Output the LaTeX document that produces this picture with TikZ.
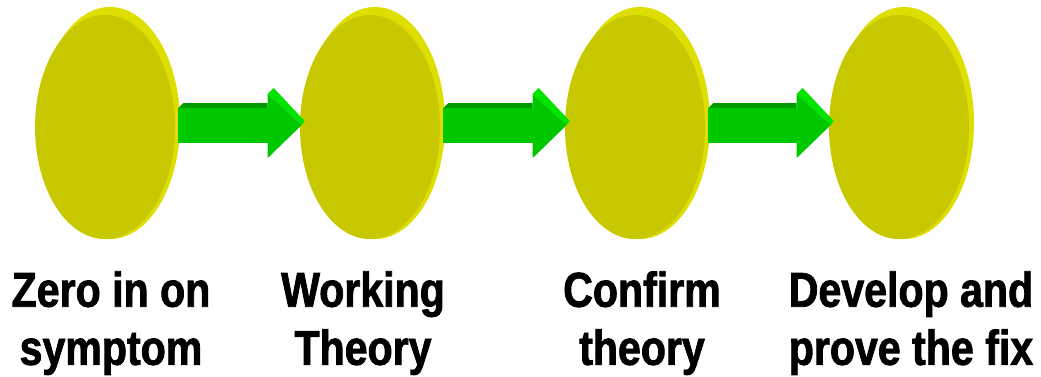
\documentclass[tikz,border=0pt]{standalone}
\usepackage{fontspec}
\usepackage{tikz}
\usetikzlibrary{calc,shapes.geometric}
\newfontfamily\labelfont[FakeStretch=0.84,FakeBold=1.6]{Liberation Sans}
\definecolor{discface}{RGB}{200,200,0}
\definecolor{discrim}{RGB}{222,222,0}
\definecolor{arrowface}{RGB}{0,200,0}
\definecolor{arrowtop}{RGB}{0,155,0}
\definecolor{arrowbevel}{RGB}{0,228,0}
\tikzset{
  disc/.style={ellipse, fill=discface, minimum width=3.5cm,
               minimum height=5.6cm, inner sep=0pt},
  rim/.style={ellipse, fill=discrim, minimum width=3.5cm,
              minimum height=5.8cm, inner sep=0pt},
  steplabel/.style={anchor=north, align=center, inner sep=0pt,
                    font=\labelfont\bfseries\fontsize{34.8}{41.3}\selectfont}
}

\begin{document}
\begin{tikzpicture}[x=0.025cm, y=-0.025cm]
  \useasboundingbox (0,0) rectangle (1041,376);
  % discs: rim behind, face in front
  \node[rim] (zerorim) at (110,123) {};
  \node[rim] (theoryrim) at (375,123) {};
  \node[rim] (confirmrim) at (640,123) {};
  \node[rim] (fixrim) at (904,123) {};
  \node[disc] (zero) at (105,127) {};
  \node[disc] (theory) at (370,127) {};
  \node[disc] (confirm) at (635,127) {};
  \node[disc] (fix) at (899,127) {};
  % block arrows between the discs
  \foreach \a/\b in {zero/theory, theory/confirm, confirm/fix} {
    \coordinate (s) at ($(\a.east)+(3,-2)$);
    \coordinate (t) at ($(\b.west)+(2,-2)$);
    \fill[arrowtop] ($(s)+(0,-17)$) -- ($(s)+(5,-22)$) -- ($(t)+(-34,-22)$) -- ($(t)+(-34,-17)$) -- cycle;
    \fill[arrowface] ($(s)+(0,-17)$) -- ($(t)+(-34,-17)$) -- ($(t)+(-34,18)$) -- ($(s)+(0,18)$) -- cycle;
    \fill[arrowbevel] ($(t)+(-34,-31)$) -- ($(t)+(-28,-37)$) -- ($(t)+(3,-4)$) -- (t) -- cycle;
    \fill[arrowface] ($(t)+(-34,-31)$) -- (t) -- ($(t)+(-34,33)$) -- cycle;
  }
  % labels
  \node[steplabel] (zerolbl) at (111,271) {Zero in on\\symptom};
  \node[steplabel] (theorylbl) at (363,271) {Working\\Theory};
  \node[steplabel] (confirmlbl) at (642,271) {Confirm\\theory};
  \node[steplabel] (fixlbl) at (911,271) {Develop and\\prove the fix};
\end{tikzpicture}
\end{document}
